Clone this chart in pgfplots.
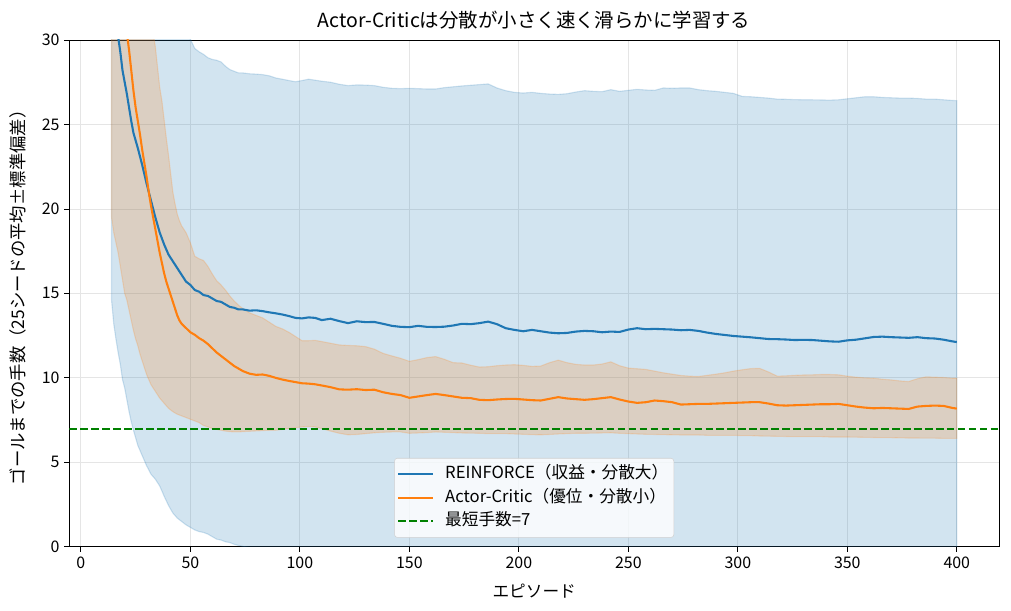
\documentclass[border=0pt]{standalone}
\usepackage{fontspec}
\setmainfont{Noto Sans CJK JP}
\usepackage{pgfplots}
\usepackage{pgfplotstable}
\pgfplotsset{compat=1.18}
\usepgfplotslibrary{fillbetween}

\definecolor{c0}{HTML}{1F77B4}
\definecolor{c1}{HTML}{FF7F0E}
\definecolor{cg}{HTML}{008000}

% moving-average of steps to goal over 25 seeds: episode, mean, mean-std, mean+std
\pgfplotstableread{
x m lo hi
14 33.0 14.6 51.4
15 32.0 13.2 50.8
16 31.0 12.3 49.7
17 30.2 11.5 48.9
18 29.3 10.8 47.8
19 28.2 9.9 46.5
20 27.5 9.4 45.6
21 26.8 8.7 44.9
22 26.0 8.0 44.0
23 25.2 7.4 43.0
24 24.5 6.9 42.1
26 23.6 6.0 41.2
28 22.6 5.4 39.8
30 21.5 4.8 38.2
32 20.5 4.3 36.7
34 19.5 4.0 35.0
36 18.6 3.6 33.6
38 17.9 3.0 32.8
40 17.3 2.45 32.15
42 16.9 2.0 31.8
44 16.5 1.7 31.3
46 16.1 1.5 30.7
48 15.7 1.3 30.3
50 15.5 1.15 30.05
52 15.2 1.0 29.5
54 15.1 0.9 29.3
56 14.9 0.85 29.15
58 14.85 0.75 28.95
60 14.7 0.6 28.85
62 14.55 0.45 28.8
64 14.5 0.4 28.7
66 14.35 0.3 28.45
68 14.2 0.25 28.25
70 14.15 0.15 28.15
72 14.05 0.08 28.05
74 14.05 0.02 28.05
77 13.98 -0.05 28.0
80 14.0 -0.05 27.98
83 13.95 -0.1 27.95
86 13.88 -0.1 27.88
89 13.82 -0.15 27.75
92 13.75 -0.2 27.68
95 13.66 -0.25 27.6
98 13.55 -0.4 27.53
101 13.52 -0.5 27.6
104 13.58 -0.5 27.68
107 13.55 -0.5 27.62
110 13.42 -0.6 27.56
114 13.5 -0.6 27.5
118 13.36 -0.7 27.38
122 13.24 -0.8 27.3
126 13.35 -0.8 27.34
130 13.3 -0.8 27.33
134 13.31 -0.8 27.3
138 13.2 -0.9 27.2
142 13.08 -1.0 27.14
146 13.02 -1.0 27.12
150 13.0 -1.1 27.14
154 13.08 -1.0 27.12
158 13.02 -1.1 27.1
162 13.01 -1.1 27.1
166 13.03 -1.1 27.18
170 13.1 -1.0 27.23
174 13.2 -0.9 27.28
178 13.18 -1.0 27.32
182 13.24 -1.0 27.36
186 13.33 -0.8 27.4
190 13.18 -0.8 27.16
194 12.94 -1.1 27.0
198 12.84 -1.2 26.9
202 12.76 -1.3 26.86
206 12.84 -1.2 26.9
210 12.76 -1.3 26.84
214 12.68 -1.4 26.8
218 12.64 -1.5 26.78
222 12.66 -1.5 26.82
226 12.74 -1.4 26.92
230 12.78 -1.4 27.0
234 12.76 -1.4 26.96
238 12.7 -1.5 26.94
242 12.74 -1.5 27.06
246 12.72 -1.5 26.96
250 12.86 -1.4 27.02
254 12.94 -1.2 27.08
258 12.88 -1.3 27.04
262 12.9 -1.3 27.02
266 12.88 -1.4 27.16
270 12.86 -1.4 27.14
274 12.82 -1.4 27.16
278 12.84 -1.4 27.16
282 12.78 -1.5 27.06
286 12.68 -1.6 27.0
290 12.6 -1.7 26.96
294 12.54 -1.8 26.9
298 12.48 -1.8 26.84
302 12.44 -1.8 26.66
306 12.4 -1.8 26.64
310 12.35 -1.9 26.6
314 12.3 -1.9 26.56
318 12.29 -2.0 26.5
322 12.27 -2.0 26.49
326 12.24 -2.0 26.47
330 12.25 -2.0 26.46
334 12.24 -2.0 26.46
338 12.2 -2.1 26.45
342 12.16 -2.1 26.44
346 12.14 -2.1 26.46
350 12.22 -2.0 26.52
354 12.26 -2.0 26.58
358 12.34 -2.0 26.64
362 12.42 -1.9 26.64
366 12.44 -1.8 26.6
370 12.41 -1.8 26.58
374 12.39 -1.8 26.56
378 12.37 -1.8 26.56
382 12.41 -1.8 26.54
386 12.35 -1.8 26.5
390 12.33 -1.9 26.5
394 12.26 -2.0 26.46
398 12.16 -2.1 26.42
400 12.12 -2.2 26.41
}\reinforce

\pgfplotstableread{
x m lo hi
14 38.0 19.5 56.5
15 37.0 18.6 55.4
16 35.8 18.0 53.6
17 34.6 17.4 51.8
18 33.4 16.6 50.2
19 32.3 15.8 48.8
20 31.3 15.0 47.6
21 30.4 14.6 46.2
22 29.4 14.0 44.8
23 28.2 13.4 43.0
24 27.0 12.8 41.2
25 26.0 12.3 39.7
26 25.2 11.9 38.5
27 24.4 11.4 37.4
28 23.5 11.0 36.0
29 22.7 10.6 34.8
30 21.9 10.2 33.6
31 21.0 9.9 32.1
32 20.2 9.6 30.8
33 19.5 9.4 30.4
34 18.8 9.2 29.6
35 18.1 9.0 28.4
36 17.4 8.8 27.2
37 16.8 8.65 26.4
38 16.2 8.5 25.3
39 15.7 8.35 24.2
40 15.3 8.2 23.2
41 14.9 8.1 22.1
42 14.5 8.0 21.0
43 14.1 7.92 20.3
44 13.7 7.85 19.7
45 13.4 7.8 19.3
46 13.2 7.75 19.0
48 12.95 7.65 18.6
50 12.7 7.55 18.0
52 12.55 7.45 17.2
54 12.35 7.35 17.05
56 12.2 7.18 16.95
58 12.0 7.1 16.6
60 11.75 7.0 16.15
62 11.5 6.95 15.75
64 11.3 6.9 15.5
66 11.1 6.85 15.2
68 10.9 6.82 14.85
70 10.7 6.8 14.55
72 10.55 6.8 14.3
74 10.4 6.82 14.1
77 10.25 6.84 13.85
80 10.18 6.86 13.7
83 10.2 6.88 13.55
86 10.12 6.9 13.3
89 10.0 6.9 13.05
92 9.9 6.95 12.9
95 9.82 7.0 12.7
98 9.75 7.05 12.45
101 9.68 7.1 12.2
104 9.66 7.12 12.2
107 9.62 7.1 12.22
110 9.55 7.0 12.15
114 9.45 6.85 12.05
118 9.32 6.72 11.95
122 9.3 6.63 11.92
126 9.33 6.65 11.9
130 9.28 6.7 11.85
134 9.3 6.75 11.7
138 9.15 6.78 11.45
142 9.05 6.8 11.3
146 8.98 6.8 11.16
150 8.82 6.72 10.98
154 8.9 6.74 11.08
158 8.98 6.76 11.2
162 9.05 6.8 11.26
166 8.98 6.78 11.1
170 8.9 6.76 10.9
174 8.82 6.74 10.88
178 8.8 6.73 10.75
182 8.7 6.72 10.64
186 8.68 6.7 10.66
190 8.72 6.7 10.72
194 8.75 6.7 10.76
198 8.76 6.68 10.78
202 8.72 6.66 10.74
206 8.68 6.64 10.68
210 8.66 6.63 10.7
214 8.76 6.65 10.9
218 8.86 6.68 11.05
222 8.78 6.7 10.9
226 8.74 6.72 10.8
230 8.7 6.72 10.76
234 8.74 6.73 10.76
238 8.8 6.74 10.82
242 8.86 6.75 10.95
246 8.72 6.72 10.72
250 8.6 6.7 10.58
254 8.52 6.68 10.54
258 8.56 6.66 10.5
262 8.66 6.65 10.4
266 8.62 6.64 10.3
270 8.56 6.63 10.22
274 8.42 6.62 10.14
278 8.44 6.62 10.1
282 8.46 6.62 10.08
286 8.46 6.6 10.15
290 8.48 6.6 10.22
294 8.5 6.6 10.3
298 8.52 6.6 10.4
302 8.54 6.58 10.48
306 8.56 6.58 10.55
310 8.56 6.56 10.56
314 8.48 6.55 10.35
318 8.38 6.54 10.1
322 8.36 6.53 10.12
326 8.38 6.52 10.15
330 8.4 6.52 10.17
334 8.42 6.52 10.18
338 8.44 6.52 10.2
342 8.44 6.5 10.2
346 8.46 6.5 10.18
350 8.38 6.5 10.1
354 8.3 6.49 10.04
358 8.24 6.48 10.0
362 8.2 6.47 9.98
366 8.22 6.46 9.92
370 8.2 6.46 9.88
374 8.18 6.45 9.82
378 8.16 6.44 9.78
382 8.3 6.44 9.95
386 8.34 6.43 10.06
390 8.36 6.43 10.04
394 8.34 6.42 10.02
398 8.22 6.42 9.98
400 8.18 6.42 9.98
}\actorcritic

\begin{document}
\begin{tikzpicture}
\begin{axis}[
  scale only axis,
  width=669.6pt, height=365pt,
  xmin=-5.3, xmax=419.3,
  ymin=0, ymax=30,
  xtick={0,50,...,400},
  ytick={0,5,...,30},
  tick pos=left,
  tick align=outside,
  major tick length=3.5pt,
  every tick/.style={black, line width=0.6pt},
  axis line style={line width=0.6pt},
  grid=major,
  major grid style={black!10, line width=0.6pt},
  tick label style={font=\fontsize{11.5}{13}\selectfont},
  /pgf/number format/assume math mode=true,
  title={Actor-Criticは分散が小さく速く滑らかに学習する},
  title style={font=\fontsize{14}{16}\selectfont, at={(axis description cs:0.5,1.023)}, anchor=center},
  xlabel={エピソード},
  xlabel style={font=\fontsize{12}{14}\selectfont, at={(axis description cs:0.5,-0.0868)}, anchor=center},
  ylabel={ゴールまでの手数（25シードの平均±標準偏差）},
  ylabel style={font=\fontsize{12.5}{14}\selectfont, at={(axis description cs:-0.0548,0.5)}, anchor=center},
  legend style={at={(axis description cs:0.5,0.018)}, anchor=south,
    font=\fontsize{12}{14}\selectfont,
    draw=black!18, rounded corners=2pt, fill=white, fill opacity=0.8, text opacity=1,
    row sep=0pt, inner xsep=2pt, inner ysep=3pt,
    nodes={text height=9pt, text depth=3pt, inner ysep=2.5pt}},
  legend cell align=left,
  legend image code/.code={\draw[#1] (0pt,0pt) -- (25pt,0pt); \path (31pt,0pt);},
]
% REINFORCE band
\addplot[name path=bhi, draw=none, forget plot] table[x=x, y=hi] {\reinforce};
\addplot[name path=blo, draw=none, forget plot] table[x=x, y=lo] {\reinforce};
\addplot[fill=c0, fill opacity=0.2, draw=c0, draw opacity=0.2, line width=0.8pt, forget plot] fill between[of=bhi and blo];
% Actor-Critic band
\addplot[name path=ahi, draw=none, forget plot] table[x=x, y=hi] {\actorcritic};
\addplot[name path=alo, draw=none, forget plot] table[x=x, y=lo] {\actorcritic};
\addplot[fill=c1, fill opacity=0.2, draw=c1, draw opacity=0.2, line width=0.8pt, forget plot] fill between[of=ahi and alo];
% means
\addplot[c0, line width=1.5pt] table[x=x, y=m] {\reinforce};
\addlegendentry{REINFORCE（収益・分散大）}
\addplot[c1, line width=1.5pt] table[x=x, y=m] {\actorcritic};
\addlegendentry{Actor-Critic（優位・分散小）}
\addplot[cg, line width=1.5pt, dash pattern=on 5.5pt off 2.4pt] coordinates {(-5.3,7) (419.3,7)};
\addlegendentry{最短手数=7}
\end{axis}
\pgfresetboundingbox
\path[use as bounding box] (-49.9pt,-46.1pt) rectangle (678.2pt,393.8pt);
\end{tikzpicture}
\end{document}
